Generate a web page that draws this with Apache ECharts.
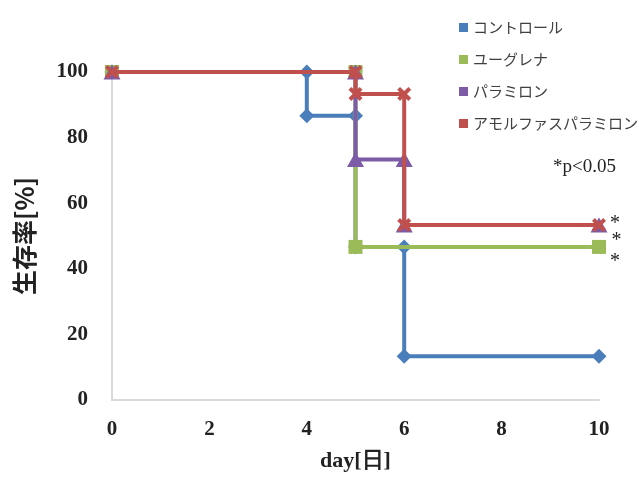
<!DOCTYPE html>
<html>
<head>
<meta charset="utf-8">
<script src="https://cdn.jsdelivr.net/npm/echarts@6/dist/echarts.min.js"></script>
<style>html,body{margin:0;padding:0;background:#fff;overflow:hidden;}#c{width:639px;height:477px;}</style>
</head>
<body>
<div id="c"></div>
<script>
// Data (day, survival %) vertices of each Kaplan-Meier step curve
const seriesNames = ['コントロール', 'ユーグレナ', 'パラミロン', 'アモルファスパラミロン'];
const controlData = [[0,100],[4,100],[4,86.67],[5,86.67],[5,46.67],[6,46.67],[6,13.33],[10,13.33]];
const euglenaData = [[0,100],[5,100],[5,46.67],[10,46.67]];
const paramylonData = [[0,100],[5,100],[5,73.33],[6,73.33],[6,53.33],[10,53.33]];
const amorphousData = [[0,100],[5,100],[5,93.33],[6,93.33],[6,53.33],[10,53.33]];
const xTicks = [0, 2, 4, 6, 8, 10];
const yTicks = [0, 20, 40, 60, 80, 100];
const significance = ['', '*', '*', '*'];

const colors = ['#4A7EBB', '#9BBB59', '#7D5BA6', '#C0504D'];
const symbols = ['diamond', 'rect', 'triangle',
  'path://M0,2 L2,0 L5,3 L8,0 L10,2 L7,5 L10,8 L8,10 L5,7 L2,10 L0,8 L3,5 Z'];
const symbolSizes = [15, 14, [17, 15], 14];
const starOffsets = [[0,0],[-1,15],[-1,16],[-1,-1]];
const allData = [controlData, euglenaData, paramylonData, amorphousData];

const serif = '"Liberation Serif", "DejaVu Serif", serif';
const jp = '"Noto Sans CJK JP", "Noto Sans", sans-serif';

const series = allData.map((d, i) => ({
  name: seriesNames[i],
  type: 'line',
  data: d.map((p, j) => {
    const item = { value: p };
    if (j === d.length - 1 && significance[i]) {
      item.label = {
        show: true, formatter: significance[i], position: 'right',
        offset: starOffsets[i], fontFamily: serif, fontSize: 20, color: '#222'
      };
    }
    return item;
  }),
  symbol: symbols[i],
  symbolSize: symbolSizes[i],
  showAllSymbol: true,
  itemStyle: { color: colors[i] },
  lineStyle: { color: colors[i], width: 4 },
  emphasis: { disabled: true },
  animation: false,
  z: 2 + i
}));

const chart = echarts.init(document.getElementById('c'), null, { renderer: 'canvas' });
chart.setOption({
  backgroundColor: '#fff',
  animation: false,
  color: colors,
  grid: { left: 112, right: 40, top: 72, bottom: 70, containLabel: false },
  legend: {
    data: seriesNames.map((n, i) => ({ name: n, icon: 'rect' })),
    orient: 'vertical',
    left: 454, top: 15,
    itemWidth: 9, itemHeight: 9, itemGap: 17,
    textStyle: { fontFamily: jp, fontSize: 15, color: '#404040' },
    selectedMode: false
  },
  xAxis: {
    type: 'value', min: 0, max: 10, interval: 2,
    name: 'day[日]', nameLocation: 'middle', nameGap: 50,
    nameTextStyle: { fontFamily: serif, fontSize: 22, fontWeight: 'bold', color: '#222' },
    axisLine: { show: true, lineStyle: { color: '#d9d9d9', width: 2 } },
    axisTick: { show: false },
    splitLine: { show: false },
    axisLabel: {
      fontFamily: serif, fontSize: 21, fontWeight: 'bold', color: '#222', margin: 19,
      formatter: v => (xTicks.includes(v) ? String(v) : '')
    }
  },
  yAxis: {
    type: 'value', min: 0, max: 100, interval: 20,
    name: '生存率[%]', nameLocation: 'middle', nameGap: 75, nameRotate: 90,
    nameTextStyle: { fontFamily: jp, fontSize: 25, fontWeight: 'bold', color: '#222' },
    axisLine: { show: true, lineStyle: { color: '#d9d9d9', width: 2 } },
    axisTick: { show: false },
    splitLine: { show: false },
    axisLabel: {
      fontFamily: serif, fontSize: 21, fontWeight: 'bold', color: '#222', margin: 24,
      formatter: v => (yTicks.includes(v) ? String(v) : '')
    }
  },
  graphic: [{
    type: 'text', left: 553, top: 158,
    style: { text: '*p<0.05', font: '19px ' + serif, fill: '#222' }
  }],
  series: series
});
</script>
</body>
</html>
